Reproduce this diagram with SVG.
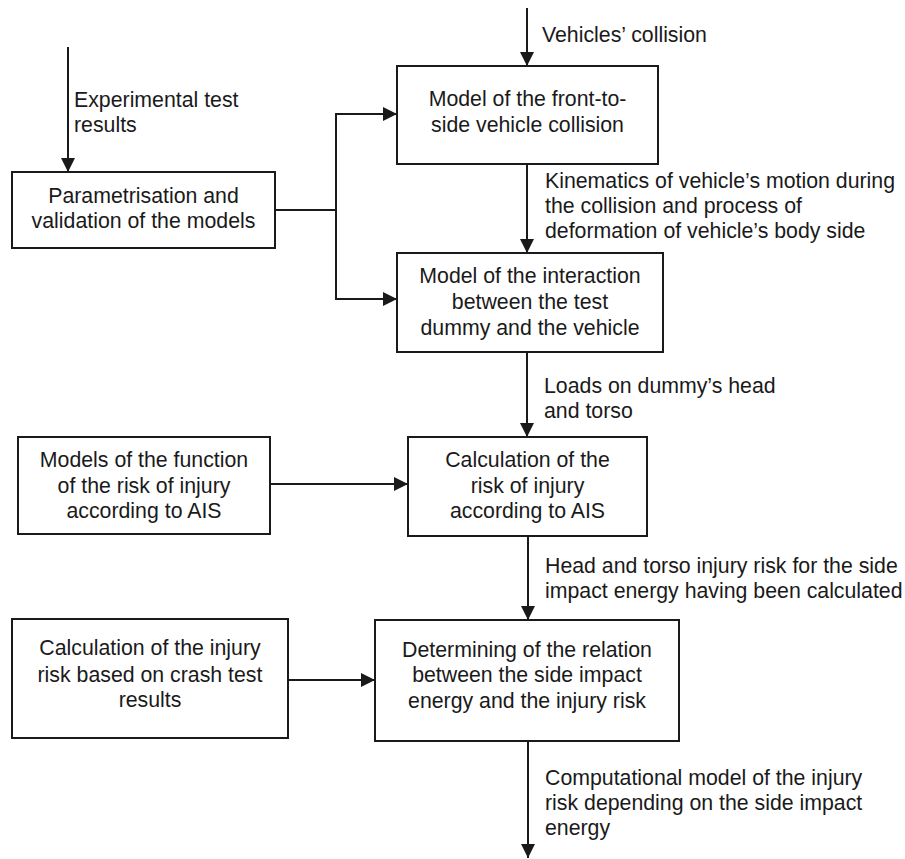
<svg xmlns="http://www.w3.org/2000/svg" width="905" height="859" viewBox="0 0 905 859">
<defs>
<marker id="ah" markerUnits="userSpaceOnUse" markerWidth="14" markerHeight="14" refX="14" refY="7" orient="auto">
<path d="M0,0 L14,7 L0,14 z" fill="#1a1a1a"/>
</marker>
</defs>
<style>
.box{fill:#fff;stroke:#1a1a1a;stroke-width:2}
.c{fill:none;stroke:#1a1a1a;stroke-width:2}
.a{marker-end:url(#ah)}
text{font-family:"Liberation Sans",Arial,sans-serif;font-size:21.3px;fill:#1a1a1a}
.m{text-anchor:middle}
</style>
<rect width="905" height="859" fill="#fff"/>
<g id="connectors">
<line class="c a" x1="527" y1="8" x2="527" y2="66"/>
<line class="c a" x1="68" y1="47" x2="68" y2="172"/>
<polyline class="c" points="275,210 336,210"/>
<line class="c" x1="336" y1="113" x2="336" y2="300"/>
<line class="c a" x1="335" y1="114" x2="397" y2="114"/>
<line class="c a" x1="335" y1="299" x2="397" y2="299"/>
<line class="c a" x1="527" y1="164" x2="527" y2="253"/>
<line class="c a" x1="527" y1="352" x2="527" y2="437"/>
<line class="c a" x1="270" y1="484" x2="408" y2="484"/>
<line class="c a" x1="528" y1="536" x2="528" y2="620"/>
<line class="c a" x1="288" y1="680" x2="375" y2="680"/>
<line class="c a" x1="528" y1="741" x2="528" y2="858"/>
<text x="542" y="42">Vehicles’ collision</text>
<text x="74" y="107">Experimental test</text>
<text x="74" y="132">results</text>
<text x="545" y="188">Kinematics of vehicle’s motion during</text>
<text x="545" y="213">the collision and process of</text>
<text x="545" y="238">deformation of vehicle’s body side</text>
<text x="544" y="393">Loads on dummy’s head</text>
<text x="544" y="418">and torso</text>
<text x="545" y="573">Head and torso injury risk for the side</text>
<text x="545" y="598">impact energy having been calculated</text>
<text x="545" y="785">Computational model of the injury</text>
<text x="545" y="810">risk depending on the side impact</text>
<text x="545" y="835">energy</text>
</g>
<g id="n1">
<rect class="box" x="397" y="66" width="261" height="98"/>
<text class="m" x="527.5" y="106">Model of the front-to-</text>
<text class="m" x="527.5" y="132">side vehicle collision</text>
</g>
<g id="n2">
<rect class="box" x="12" y="172" width="263" height="76"/>
<text class="m" x="143.5" y="203">Parametrisation and</text>
<text class="m" x="143.5" y="228">validation of the models</text>
</g>
<g id="n3">
<rect class="box" x="397" y="253" width="266" height="99"/>
<text class="m" x="530" y="283">Model of the interaction</text>
<text class="m" x="530" y="309">between the test</text>
<text class="m" x="530" y="335">dummy and the vehicle</text>
</g>
<g id="n4">
<rect class="box" x="18" y="437" width="252" height="97"/>
<text class="m" x="144" y="467">Models of the function</text>
<text class="m" x="144" y="493">of the risk of injury</text>
<text class="m" x="144" y="518">according to AIS</text>
</g>
<g id="n5">
<rect class="box" x="408" y="437" width="239" height="99"/>
<text class="m" x="527.5" y="467">Calculation of the</text>
<text class="m" x="527.5" y="493">risk of injury</text>
<text class="m" x="527.5" y="518">according to AIS</text>
</g>
<g id="n6">
<rect class="box" x="12" y="619" width="276" height="119"/>
<text class="m" x="150" y="655">Calculation of the injury</text>
<text class="m" x="150" y="682">risk based on crash test</text>
<text class="m" x="150" y="707">results</text>
</g>
<g id="n7">
<rect class="box" x="375" y="620" width="304" height="121"/>
<text class="m" x="527" y="657">Determining of the relation</text>
<text class="m" x="527" y="682">between the side impact</text>
<text class="m" x="527" y="708">energy and the injury risk</text>
</g>
</svg>
